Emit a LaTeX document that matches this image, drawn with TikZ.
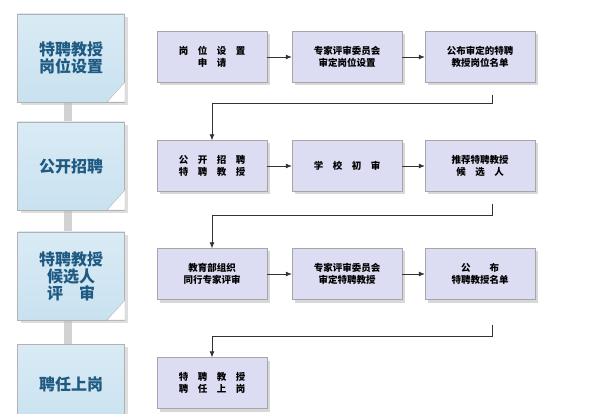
\documentclass[tikz,border=0pt]{standalone}
\usepackage{fontspec}
\newfontfamily\cjk{Noto Sans CJK SC}
\usetikzlibrary{arrows.meta,shadows}
\definecolor{lav}{HTML}{DCDCF2}
\definecolor{pb}{HTML}{C9E2F0}
\definecolor{tb}{HTML}{1E5A82}
\begin{document}
\begin{tikzpicture}[x=1pt,y=-1pt,
  stp/.style={draw=gray!70,fill=lav,minimum width=110pt,minimum height=51pt,inner sep=2pt,align=center,font=\cjk\bfseries\fontsize{9.5}{12}\selectfont,drop shadow={shadow xshift=3pt,shadow yshift=-3pt,fill=gray!60}},
  stage/.style={draw=gray!60,top color=pb!70,bottom color=pb,minimum width=107pt,minimum height=88pt,align=center,text=tb,font=\cjk\bfseries\fontsize{16}{17}\selectfont,drop shadow={shadow xshift=3pt,shadow yshift=-3pt,fill=gray!50}},
  ar/.style={-{Latex[length=6pt,width=5pt]},thick,black!80},
  lnk/.style={line width=8pt,gray!35}]
\useasboundingbox (0,0) rectangle (600,414);
\fill[white] (0,0) rectangle (600,414);
\draw[lnk] (68,100) -- (68,125);
\draw[lnk] (68,208) -- (68,235);
\draw[lnk] (68,318) -- (68,345);
\node[stage] (s1) at (71,58) {特聘教授\\岗位设置};
\node[stage] (s2) at (71,166) {公开招聘};
\node[stage] (s3) at (71,276) {特聘教授\\候选人\\评　审};
\node[stage,minimum height=80pt] (s4) at (71,384) {聘任上岗};
\foreach \y in {102,210,320}{\fill[white,draw=gray!60] (125,\y-20) -- (125,\y) -- (107,\y) -- cycle;}
\node[stp] (a1) at (212,57) {岗　位　设　置\\申　请};
\node[stp] (a2) at (347,57) {专家评审委员会\\审定岗位设置};
\node[stp] (a3) at (480,57) {公布审定的特聘\\教授岗位名单};
\node[stp] (b1) at (212,166) {公　开　招　聘\\特　聘　教　授};
\node[stp] (b2) at (347,166) {学　校　初　审};
\node[stp] (b3) at (480,166) {推荐特聘教授\\候　选　人};
\node[stp] (c1) at (212,274) {教育部组织\\同行专家评审};
\node[stp] (c2) at (347,274) {专家评审委员会\\审定特聘教授};
\node[stp] (c3) at (480,274) {公　　布\\特聘教授名单};
\node[stp] (d1) at (212,383) {特　聘　教　授\\聘　任　上　岗};
\draw[ar] (a1) -- (a2); \draw[ar] (a2) -- (a3);
\draw[ar] (b1) -- (b2); \draw[ar] (b2) -- (b3);
\draw[ar] (c1) -- (c2); \draw[ar] (c2) -- (c3);
\draw[ar] (a3.south) ++(12,12) coordinate (p1) -- ++(0,9) -| (b1.north);
\draw[ar] (b3.south) ++(12,12) coordinate (p2) -- ++(0,12) -| (c1.north);
\draw[ar] (c3.south) ++(12,25) coordinate (p3) -- ++(0,12) -| (d1.north);
\end{tikzpicture}
\end{document}
